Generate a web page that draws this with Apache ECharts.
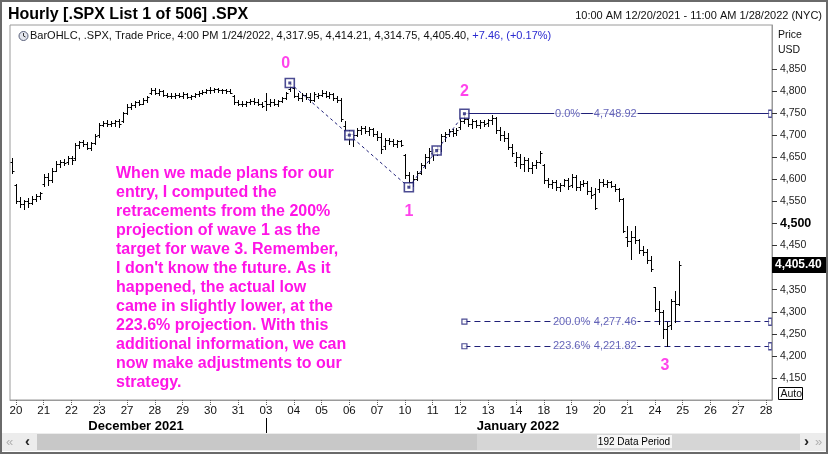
<!DOCTYPE html>
<html>
<head>
<meta charset="utf-8">
<script src="https://cdn.jsdelivr.net/npm/echarts@6/dist/echarts.min.js"></script>
<style>
  html, body { margin: 0; padding: 0; background: #fff; }
  #chart { width: 828px; height: 454px; }
</style>
</head>
<body>
<div id="chart"></div>
<script>
// trading days shown on the axis, 7 hourly bars each (10:00 .. 16:00)
const dayLabels = ['20','21','22','23','27','28','29','30','31','03','04','05','06','07',
  '10','11','12','13','14','18','19','20','21','24','25','26','27','28'];
const hours = ['10:00','11:00','12:00','13:00','14:00','15:00','16:00'];

// hourly OHLC (slot 0 = last bar before 12/20)
const opens = [
  4640,4588,4552,4545,4550,4546,4556,4563,4590,4605,4598,4620,4636,4640,4640,4648,4648,4678,4684,4680,
  4672,4682,4700,4724,4728,4726,4729,4732,4733,4750,4765,4768,4775,4772,4780,4795,4803,4797,4800,4792,
  4790,4788,4792,4790,4794,4787,4789,4794,4797,4799,4803,4802,4804,4802,4803,4800,4790,4775,4772,4770,
  4775,4778,4776,4772,4778,4770,4776,4772,4778,4785,4804,4808,4790,4785,4792,4787,4780,4788,4792,4797,
  4790,4793,4784,4780,4720,4700,4703,4700,4712,4716,4710,4714,4702,4696,4675,4690,4686,4680,4686,4655,
  4610,4595,4602,4615,4632,4650,4660,4662,4668,4698,4704,4710,4706,4718,4732,4736,4726,4732,4724,4730,
  4728,4735,4740,4712,4700,4695,4674,4640,4650,4635,4645,4625,4632,4640,4632,4598,4590,4594,4582,4588,
  4598,4588,4606,4582,4590,4592,4574,4568,4578,4595,4590,4594,4586,4578,4556,4470,4460,4470,4462,4440,
  4435,4418,4356,4306,4300,4262,4270,4325,4317.95
];
const highs = [
  4649,4590,4560,4553,4558,4563,4566,4572,4612,4614,4625,4642,4644,4646,4652,4652,4682,4688,4690,4684,
  4685,4702,4728,4733,4734,4732,4735,4738,4752,4770,4773,4778,4780,4784,4790,4807,4808,4805,4803,4796,
  4795,4796,4797,4799,4796,4792,4796,4800,4803,4806,4809,4807,4807,4806,4805,4804,4792,4780,4778,4778,
  4782,4784,4782,4775,4797,4782,4783,4780,4787,4798,4818.62,4810,4797,4795,4796,4795,4798,4797,4802,4800,
  4798,4796,4790,4785,4733,4712,4710,4716,4722,4720,4718,4717,4710,4706,4695,4695,4692,4690,4690,4658,
  4616,4610,4620,4638,4658,4672,4668,4675,4703,4708,4715,4714,4716,4736,4748.92,4740,4738,4735,4734,4735,
  4738,4745,4742,4718,4710,4706,4680,4662,4658,4650,4648,4640,4645,4665,4634,4604,4598,4598,4592,4602,
  4604,4612,4610,4596,4598,4596,4582,4580,4600,4601,4598,4597,4590,4580,4558,4495,4483,4495,4465,4448,
  4443,4427,4356,4325,4304,4276,4330,4347,4414.21
];
const lows = [
  4615,4547,4537,4533,4538,4544,4550,4556,4585,4588,4594,4618,4628,4632,4634,4636,4645,4672,4676,4668,
  4666,4680,4696,4720,4722,4720,4722,4718,4730,4748,4760,4765,4768,4770,4776,4793,4794,4792,4789,4786,
  4784,4785,4786,4784,4785,4783,4786,4790,4793,4795,4797,4798,4799,4797,4796,4795,4772,4768,4766,4767,
  4771,4772,4768,4764,4758,4766,4768,4767,4775,4783,4800,4786,4780,4778,4783,4776,4778,4784,4788,4786,
  4785,4780,4776,4733,4692,4680,4676,4698,4704,4705,4700,4698,4690,4661,4670,4680,4676,4674,4676,4604,
  4582,4586,4598,4612,4627,4638,4645,4655,4665,4688,4698,4698,4700,4715,4728,4720,4716,4718,4716,4720,
  4722,4726,4705,4690,4688,4668,4653,4630,4627,4620,4618,4615,4625,4637,4592,4583,4580,4576,4574,4584,
  4578,4582,4575,4576,4584,4568,4558,4533,4572,4586,4582,4582,4574,4552,4480,4450,4420,4455,4434,4428,
  4411,4393,4302,4272,4241,4222,4262,4276,4314.75
];
const closes = [
  4620,4552,4545,4550,4546,4556,4562,4570,4605,4598,4620,4636,4640,4638,4648,4645,4678,4684,4680,4672,
  4682,4698,4724,4728,4726,4729,4732,4725,4750,4765,4768,4775,4772,4780,4787,4803,4797,4800,4792,4790,
  4788,4792,4790,4794,4787,4789,4794,4797,4799,4803,4802,4804,4802,4803,4800,4797,4775,4772,4770,4775,
  4778,4776,4772,4767,4770,4776,4772,4778,4785,4796,4810,4790,4785,4792,4787,4780,4794,4792,4797,4790,
  4793,4784,4780,4736,4700,4703,4700,4712,4716,4710,4714,4702,4696,4668,4690,4686,4680,4686,4678,4610,
  4595,4602,4615,4632,4650,4665,4662,4668,4698,4704,4710,4706,4713,4732,4736,4726,4732,4724,4730,4726,
  4735,4740,4712,4700,4695,4674,4660,4650,4635,4645,4625,4632,4640,4660,4598,4590,4594,4582,4588,4598,
  4584,4606,4582,4590,4592,4574,4565,4536,4595,4590,4594,4586,4578,4556,4483,4460,4470,4462,4440,4435,
  4418,4398,4306,4300,4262,4268,4325,4318,4405.40
];

// Elliott wave pivots
const waveNames = ['0', '1', '2', '3'];
const waveSlots = [70, 100, 114, 165];
const waveValues = [4818.62, 4582.24, 4748.92, 4222.62];
// anchor boxes on the wave legs (pivots plus leg midpoints)
const boxSlots = [70, 85, 100, 107, 114];
const boxValues = [4818.62, 4700.43, 4582.24, 4665.58, 4748.92];

// retracement / projection levels
const fibNames = ['0.0%', '200.0%', '223.6%'];
const fibValues = [4748.92, 4277.46, 4221.82];
const fibNameSlots = [140, 141, 141];
const fibValueSlots = [152, 152, 152];
const fibStart = 114;
const fibEnd = 191;

const yTicks = [4150,4200,4250,4300,4350,4400,4450,4500,4550,4600,4650,4700,4750,4800,4850];

const noteLines = [
  'When we made plans for our',
  'entry, I computed the',
  'retracements from the 200%',
  'projection of wave 1 as the',
  'target for wave 3. Remember,',
  "I don't know the future. As it",
  'happened, the actual low',
  'came in slightly lower, at the',
  '223.6% projection. With this',
  'additional information, we can',
  'now make adjustments to our',
  'strategy.'
];

const FONT = '"Liberation Sans", Arial, sans-serif';
const NAVY = '#1f1f78';
const PINK = '#ff14e6';

const categories = ['12/17 16:00'];
dayLabels.forEach(d => hours.forEach(h => categories.push(d + ' ' + h)));
categories.length = 192;

const bars = opens.map((o, i) => [i, o, highs[i], lows[i], closes[i]]);

const fmt = v => v.toLocaleString('en-US', { minimumFractionDigits: 2, maximumFractionDigits: 2 });
const isDayStart = i => i >= 1 && (i - 1) % 7 === 0;

function renderBar(params, api) {
  const i = api.value(0);
  const px = v => Math.round(api.coord([i, v])[1]) + 0.5;
  const x = Math.round(api.coord([i, 0])[0]) + 0.5;
  const st = { stroke: '#000', lineWidth: 1 };
  const yo = px(api.value(1)), yh = px(api.value(2)), yl = px(api.value(3)), yc = px(api.value(4));
  return {
    type: 'group',
    children: [
      { type: 'line', shape: { x1: x, y1: yh - 0.5, x2: x, y2: yl + 0.5 }, style: st },
      { type: 'line', shape: { x1: x - 2, y1: yo, x2: x, y2: yo }, style: st },
      { type: 'line', shape: { x1: x, y1: yc, x2: x + 2, y2: yc }, style: st }
    ]
  };
}

const chart = echarts.init(document.getElementById('chart'), null, { renderer: 'canvas' });

const fibLines = fibValues.map((v, k) => [
  { coord: [fibStart, v], lineStyle: { color: NAVY, width: 1, type: k === 0 ? 'solid' : [6, 4] } },
  { coord: [fibEnd, v] }
]);

const fibTags = [];
fibValues.forEach((v, k) => {
  fibTags.push({ value: [fibNameSlots[k], v], name: fibNames[k] });
  fibTags.push({ value: [fibValueSlots[k], v], name: fmt(v) });
});

const option = {
  animation: false,
  backgroundColor: '#fff',
  textStyle: { fontFamily: FONT },
  grid: {
    left: 10, right: 56, top: 25, bottom: 54,
    show: true, borderColor: '#9a9a9a', borderWidth: 1, backgroundColor: '#fff'
  },
  xAxis: {
    type: 'category',
    data: categories,
    boundaryGap: true,
    axisLine: { show: true, lineStyle: { color: '#9a9a9a' } },
    axisTick: {
      show: true, alignWithLabel: true, length: 5,
      interval: i => isDayStart(i),
      lineStyle: { color: '#555', type: [1, 1] }
    },
    axisLabel: {
      interval: i => isDayStart(i),
      formatter: v => v.split(' ')[0],
      color: '#111', fontSize: 11.5, margin: 5, fontFamily: FONT
    },
    splitLine: { show: false }
  },
  yAxis: {
    type: 'value',
    position: 'right',
    min: 4100, max: 4950,
    axisLine: { show: true, lineStyle: { color: '#9a9a9a' } },
    axisTick: { show: true, length: 5, customValues: yTicks, lineStyle: { color: '#333' } },
    axisLabel: {
      customValues: yTicks,
      margin: 8,
      fontFamily: FONT,
      formatter: v => v === 4500 ? '{b|4,500}' : '{n|' + v.toLocaleString('en-US') + '}',
      rich: {
        n: { fontSize: 10.5, color: '#222', fontFamily: FONT },
        b: { fontSize: 12.5, fontWeight: 'bold', color: '#000', fontFamily: FONT }
      }
    },
    splitLine: { show: false }
  },
  series: [
    {
      name: 'SPX',
      type: 'custom',
      renderItem: renderBar,
      data: bars,
      encode: { x: 0, y: [1, 2, 3, 4] },
      z: 2
    },
    {
      name: 'leg01',
      type: 'line',
      data: [[waveSlots[0], waveValues[0]], [waveSlots[1], waveValues[1]]],
      symbol: 'none',
      lineStyle: { color: NAVY, width: 1, type: [3, 3] },
      z: 3
    },
    {
      name: 'leg12',
      type: 'line',
      data: [[waveSlots[1], waveValues[1]], [waveSlots[2], waveValues[2]]],
      symbol: 'none',
      lineStyle: { color: NAVY, width: 1, type: [3, 3] },
      z: 3
    },
    {
      name: 'fib',
      type: 'line',
      data: [],
      markLine: { silent: true, symbol: ['none', 'none'], animation: false, label: { show: false }, data: fibLines, z: 2 },
      z: 2
    },
    {
      name: 'fibTags',
      type: 'scatter',
      data: fibTags,
      symbolSize: 1,
      itemStyle: { color: 'rgba(0,0,0,0)' },
      label: {
        show: true,
        position: 'inside',
        formatter: p => p.name,
        color: '#3c3ca8', fontSize: 11, fontFamily: FONT,
        backgroundColor: '#fff', padding: [1, 1]
      },
      z: 10,
      zlevel: 1
    },
    {
      name: 'fibEnds',
      type: 'scatter',
      data: fibValues.map(v => [fibEnd, v]),
      symbol: 'rect', symbolSize: [3, 7],
      itemStyle: { color: '#fff', borderColor: NAVY, borderWidth: 1 },
      z: 4
    },
    {
      name: 'fibStarts',
      type: 'scatter',
      data: fibValues.slice(1).map(v => [fibStart, v]),
      symbol: 'rect', symbolSize: 5,
      itemStyle: { color: '#fff', borderColor: NAVY, borderWidth: 1.2 },
      z: 4
    },
    {
      name: 'boxes',
      type: 'scatter',
      data: boxSlots.map((s, k) => [s, boxValues[k]]),
      symbol: 'rect', symbolSize: 9,
      itemStyle: { color: '#fff', borderColor: NAVY, borderWidth: 1.6 },
      z: 5
    },
    {
      name: 'boxDots',
      type: 'scatter',
      data: boxSlots.map((s, k) => [s, boxValues[k]]),
      symbol: 'rect', symbolSize: 3,
      itemStyle: { color: NAVY },
      z: 6
    },
    {
      name: 'waves',
      type: 'scatter',
      data: waveSlots.map((s, k) => ({
        value: [s, waveValues[k]],
        label: {
          position: k % 2 === 0 ? 'top' : 'bottom',
          distance: [11, 16, 14, 11][k],
          offset: [[-4, 0], [0, 0], [0, 0], [-2, 0]][k]
        }
      })),
      symbolSize: 1,
      itemStyle: { color: 'rgba(0,0,0,0)' },
      label: {
        show: true,
        formatter: p => waveNames[p.dataIndex],
        color: PINK, fontSize: 16, fontWeight: 'bold', fontFamily: FONT
      },
      z: 6
    }
  ],
  graphic: []
};

chart.setOption(option);

const lastY = Math.round(chart.convertToPixel({ yAxisIndex: 0 }, closes[closes.length - 1]));

const txt = (x, y, text, extra, z) => ({
  type: 'text', x, y, z: z || 20,
  style: Object.assign({ text, fill: '#111', fontSize: 11, fontFamily: FONT, verticalAlign: 'middle' }, extra || {})
});

chart.setOption({
  graphic: [
    // window frame
    { type: 'rect', shape: { x: 1, y: 1, width: 826, height: 452 }, style: { fill: 'none', stroke: '#6a6a6a', lineWidth: 2 }, silent: true, z: 100 },
    txt(8, 15, 'Hourly [.SPX List 1 of 506] .SPX', { fontSize: 16, fontWeight: 'bold', fill: '#000' }),
    txt(822, 16, '10:00 AM 12/20/2021 - 11:00 AM 1/28/2022 (NYC)', { align: 'right', fontSize: 11 }),
    // clock icon
    { type: 'circle', shape: { cx: 23.5, cy: 36, r: 4.5 }, style: { fill: '#e4e6ee', stroke: '#59607a', lineWidth: 1 } },
    { type: 'polyline', shape: { points: [[23.5, 33], [23.5, 36], [25.5, 37]] }, style: { fill: 'none', stroke: '#333', lineWidth: 1 } },
    {
      type: 'text', x: 30, y: 36, z: 20,
      style: {
        text: '{a|BarOHLC, .SPX, Trade Price, 4:00 PM 1/24/2022, 4,317.95, 4,414.21, 4,314.75, 4,405.40, }{c|+7.46, (+0.17%)}',
        verticalAlign: 'middle',
        rich: {
          a: { fontSize: 11, fill: '#111', fontFamily: FONT },
          c: { fontSize: 11, fill: '#2a2ad0', fontFamily: FONT }
        }
      }
    },
    txt(778, 35, 'Price', { fontSize: 10.5 }),
    txt(778, 50, 'USD', { fontSize: 10.5 }),
    // last price tag
    { type: 'rect', z: 50, shape: { x: 772, y: lastY - 8, width: 56, height: 16 }, style: { fill: '#000' } },
    txt(775, lastY, fmt(closes[closes.length - 1]), { fill: '#fff', fontWeight: 'bold', fontSize: 12 }, 51),
    // Auto box
    { type: 'rect', shape: { x: 778.5, y: 387.5, width: 24, height: 12 }, style: { fill: '#fff', stroke: '#000', lineWidth: 1 } },
    txt(780.5, 394, 'Auto', { fontSize: 10.5 }),
    // note
    {
      type: 'text', x: 116, y: 164, z: 10,
      style: {
        text: noteLines.join('\n'),
        fill: PINK, fontSize: 16, fontWeight: 'bold', fontFamily: FONT,
        lineHeight: 19, verticalAlign: 'top'
      }
    },
    // month labels and separator
    txt(136, 426, 'December 2021', { align: 'center', fontSize: 13, fontWeight: 'bold', fill: '#000' }),
    txt(518, 426, 'January 2022', { align: 'center', fontSize: 13, fontWeight: 'bold', fill: '#000' }),
    { type: 'line', shape: { x1: 266.5, y1: 418, x2: 266.5, y2: 433 }, style: { stroke: '#000', lineWidth: 1 } },
    // scroll bar
    { type: 'rect', shape: { x: 2, y: 433, width: 824, height: 18 }, style: { fill: '#ececec' } },
    { type: 'rect', shape: { x: 37, y: 434, width: 440, height: 16 }, style: { fill: '#c8c8c8' } },
    { type: 'rect', shape: { x: 477, y: 434, width: 323, height: 16 }, style: { fill: '#d6d6d6' } },
    { type: 'rect', shape: { x: 597, y: 435, width: 75, height: 13 }, style: { fill: '#f6f6f6' } },
    txt(634, 442, '192 Data Period', { align: 'center', fontSize: 10, fill: '#000' }),
    txt(6, 442, '«', { fontSize: 13, fill: '#b0b0b0' }),
    txt(25, 442, '‹', { fontSize: 15, fill: '#222', fontWeight: 'bold' }),
    txt(804, 442, '›', { fontSize: 15, fill: '#222', fontWeight: 'bold' }),
    txt(815, 442, '»', { fontSize: 13, fill: '#b0b0b0' })
  ]
});
</script>
</body>
</html>
